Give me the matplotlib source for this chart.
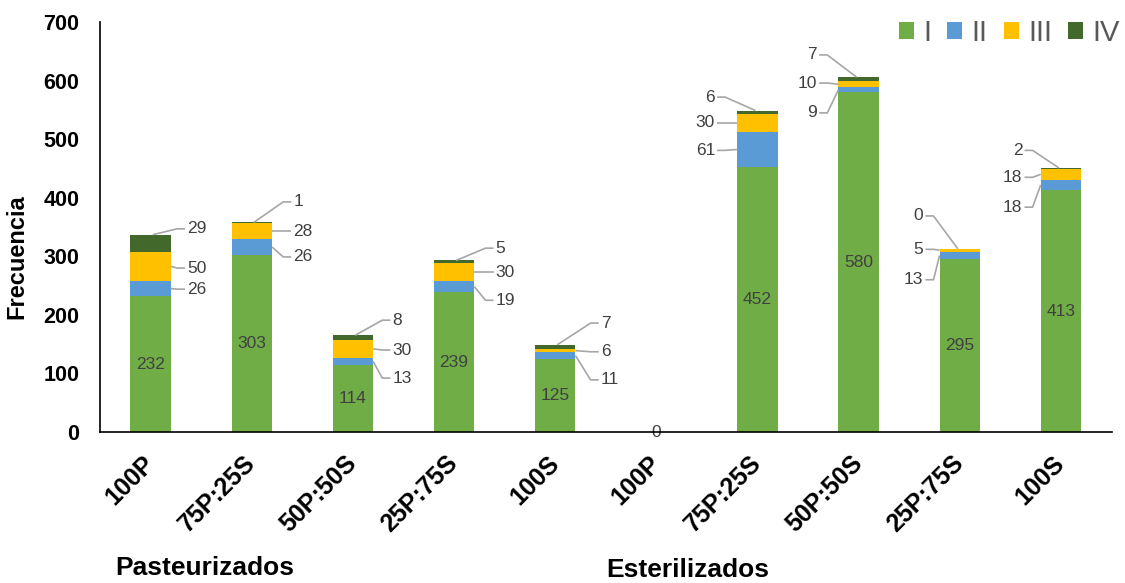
import numpy as np
import matplotlib
matplotlib.use('Agg')
from matplotlib import pyplot as plt

plt.rcParams['font.family'] = ['Liberation Sans', 'DejaVu Sans']

#---------------------------  DATA -----------------------------
categorias = ['100P', '75P:25S', '50P:50S', '25P:75S', '100S',
              '100P', '75P:25S', '50P:50S', '25P:75S', '100S']
tipo_I   = [232, 303, 114, 239, 125, 0, 452, 580, 295, 413]
tipo_II  = [26, 26, 13, 19, 11, 0, 61, 9, 13, 18]
tipo_III = [50, 28, 30, 30, 6, 0, 30, 10, 5, 18]
tipo_IV  = [29, 1, 8, 5, 7, 0, 6, 7, 0, 2]
series_names = ['I', 'II', 'III', 'IV']
grupos = ['Pasteurizados', 'Esterilizados']

# label heights (II, III, IV) for the callout labels, side and gap from the bar
label_y = [[244, 280, 347], [299, 343, 393], [92, 140, 191], [225, 273, 314],
           [89, 137, 186], None, [481, 528, 572], [545, 596, 644],
           [260, 312, 369], [384, 435, 481]]
label_side = [1, 1, 1, 1, 1, 0, -1, -1, -1, -1]
label_gap = [0.16, 0.21, 0.19, 0.21, 0.25, 0, 0.22, 0.21, 0.16, 0.18]

colors = ['#70AD47', '#5B9BD5', '#FFC000', '#43682B']
txt_col = '#404040'
line_col = '#A6A6A6'

#---------------------------  PLOT -----------------------------
fig = plt.figure(figsize=(11.25, 5.83), dpi=100)
ax = fig.add_axes([0.089, 0.259, 0.899, 0.703])

x = np.arange(len(categorias))
width = 0.4
stack = [tipo_I, tipo_II, tipo_III, tipo_IV]
bottom = np.zeros(len(categorias))
for vals, col, name in zip(stack, colors, series_names):
    ax.bar(x, vals, width, bottom=bottom, color=col, label=name, zorder=2)
    bottom += np.array(vals)

# values of series I inside the bars
for i, v in enumerate(tipo_I):
    if v > 0:
        ax.text(x[i], v / 2, str(v), ha='center', va='center', fontsize=12.5, color=txt_col)
    else:
        ax.text(x[i], 0, '0', ha='center', va='center', fontsize=12.5, color=txt_col, zorder=1)

# callout labels for II, III, IV
for i in range(len(categorias)):
    if label_y[i] is None:
        continue
    s = label_side[i]
    edge = x[i] + s * width / 2
    tx = edge + s * label_gap[i]
    base = tipo_I[i]
    for k, vals in enumerate([tipo_II, tipo_III, tipo_IV]):
        v = vals[i]
        ly = label_y[i][k]
        top = base + v
        if k == 2:
            anchor = (x[i] + s * 0.02, top)
        else:
            anchor = (edge, (base + top) / 2)
        px = [anchor[0], tx - s * 0.1, tx - s * 0.02]
        py = [anchor[1], ly, ly]
        ax.plot(px, py, color=line_col, lw=1.2, zorder=3, solid_capstyle='butt')
        ax.text(tx, ly, str(v), ha='left' if s > 0 else 'right', va='center',
                fontsize=12.5, color=txt_col)
        base = top

ax.set_xlim(-0.5, len(categorias) - 0.5)
ax.set_ylim(0, 700)
ax.set_yticks(np.arange(0, 701, 100))
ax.set_xticks(x)
ax.set_xticklabels(categorias, rotation=45, ha='right', va='center',
                   rotation_mode='anchor', fontsize=18, fontweight='bold')
ax.tick_params(axis='both', length=0)
ax.tick_params(axis='x', pad=20)
ax.tick_params(axis='y', pad=15)
for lab in ax.get_yticklabels():
    lab.set_fontsize(15.5)
    lab.set_fontweight('bold')
ax.set_ylabel('Frecuencia', fontsize=17, fontweight='bold')
ax.yaxis.set_label_coords(-0.071, 0.427)
for sp in ['top', 'right']:
    ax.spines[sp].set_visible(False)
for sp in ['left', 'bottom']:
    ax.spines[sp].set_color('black')
    ax.spines[sp].set_linewidth(1.2)

fig.text(0.182, 0.026, grupos[0], ha='center', va='center', fontsize=19, fontweight='bold')
fig.text(0.611, 0.022, grupos[1], ha='center', va='center', fontsize=19, fontweight='bold')

leg = ax.legend(loc='center right', bbox_to_anchor=(0.9956, 0.943),
                bbox_transform=fig.transFigure, ncol=4, frameon=False,
                fontsize=21, handlelength=0.52, handleheight=0.52, handletextpad=0.32,
                columnspacing=0.55, borderaxespad=0, borderpad=0)
for t in leg.get_texts():
    t.set_color('#595959')

plt.savefig('out.png', dpi=100)
